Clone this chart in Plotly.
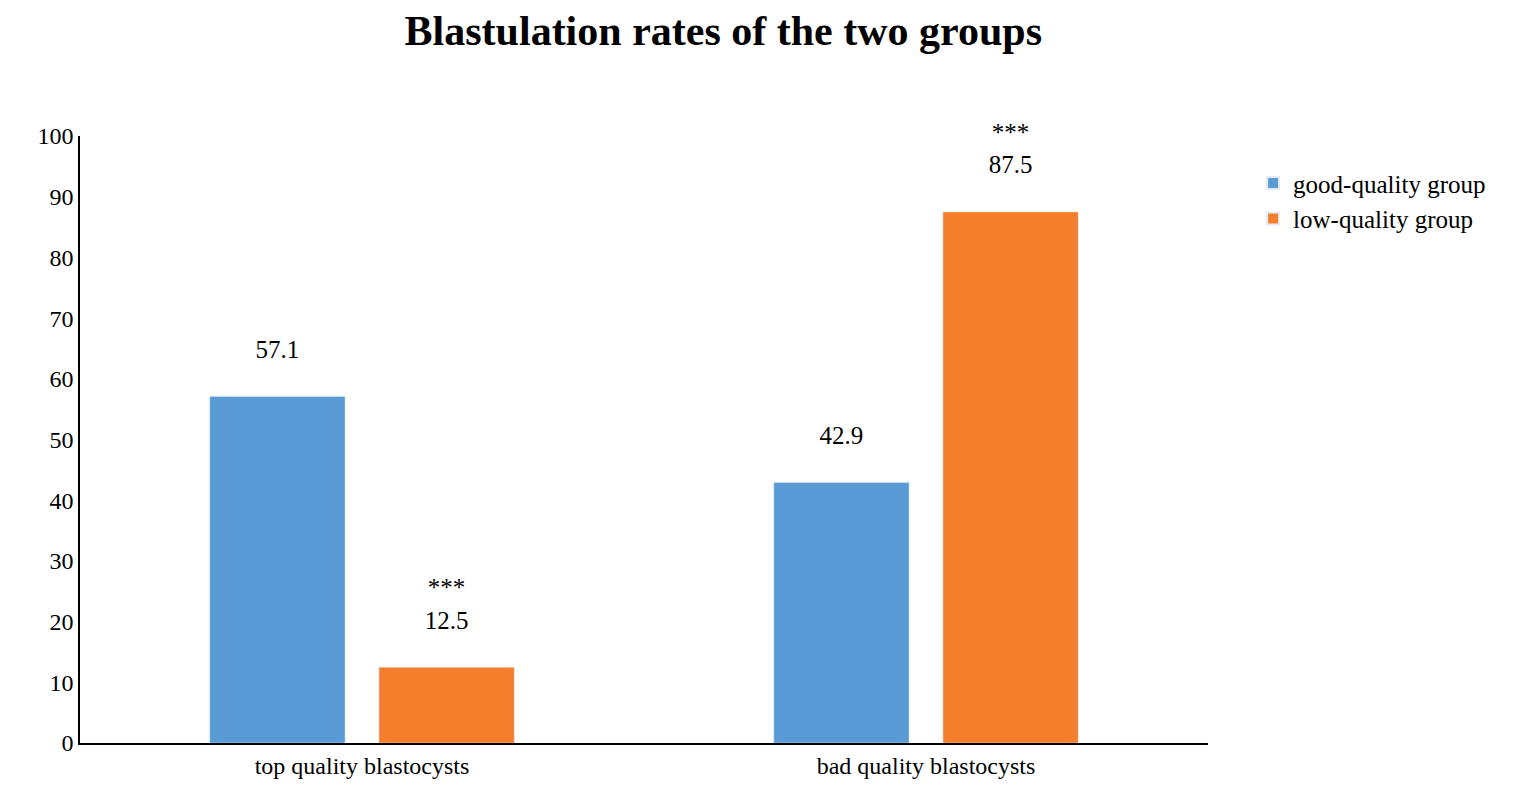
import plotly.graph_objects as go

categories = ["top quality blastocysts", "bad quality blastocysts"]
good_quality = [57.1, 42.9]
low_quality = [12.5, 87.5]
low_marks = ["***", "***"]
y_ticks = list(range(0, 101, 10))

font = "Liberation Serif, Times New Roman, serif"
pad = "<br><span style='font-size:12px'> </span>"

fig = go.Figure()
fig.add_trace(go.Bar(
    x=categories, y=good_quality, name="good-quality group",
    marker_color="#5B9BD5",
    text=[f"{v}{pad}" for v in good_quality], textposition="outside",
    textfont=dict(size=25, color="black", family=font),
    cliponaxis=False,
))
fig.add_trace(go.Bar(
    x=categories, y=low_quality, name="low-quality group",
    marker_color="#F47E2C",
    text=[f"{m}<br>{v}{pad}" for m, v in zip(low_marks, low_quality)],
    textposition="outside",
    textfont=dict(size=25, color="black", family=font),
    cliponaxis=False,
))

fig.update_layout(
    width=1535, height=793,
    plot_bgcolor="white", paper_bgcolor="white",
    font=dict(family=font, size=24, color="black"),
    title=dict(text="<b>Blastulation rates of the two groups</b>",
               x=0.466, xanchor="center", y=0.99, yanchor="top",
               font=dict(size=42, family=font)),
    margin=dict(l=72, r=335, t=128, b=58),
    barmode="group", bargap=0.4, bargroupgap=0.2,
    legend=dict(x=1.04, y=0.96, xanchor="left", yanchor="top",
                font=dict(size=25), itemsizing="constant",
                tracegroupgap=26),
    showlegend=True,
)
fig.update_yaxes(range=[0, 100], tickvals=y_ticks, showgrid=False,
                 showline=True, linecolor="black", linewidth=1.5,
                 ticks="", tickfont=dict(size=24), zeroline=False)
fig.update_xaxes(showline=True, linecolor="black", linewidth=1.5,
                 ticks="", tickfont=dict(size=24))

fig.write_html("out.html")
